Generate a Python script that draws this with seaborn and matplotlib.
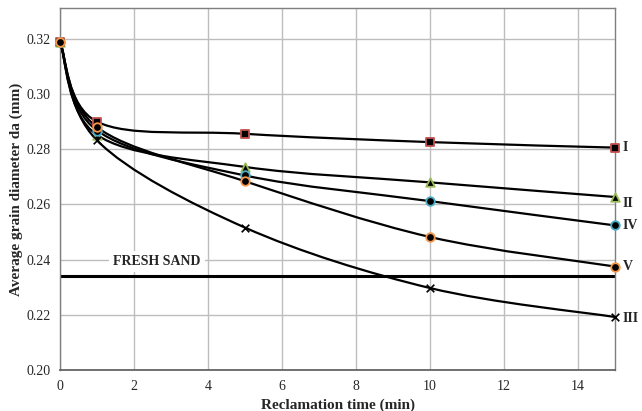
import matplotlib
matplotlib.use("Agg")
import matplotlib.pyplot as plt
from matplotlib.path import Path
from matplotlib.patches import PathPatch
import seaborn as sns
import numpy as np

# reclamation time (min) and average grain diameter (mm) per series
time_min = [0, 1, 5, 10, 15]
da_I = [0.319, 0.290, 0.2856, 0.2826, 0.2806]
da_II = [0.319, 0.2852, 0.2736, 0.2680, 0.2627]
da_IV = [0.319, 0.2868, 0.2705, 0.2612, 0.2524]
da_V = [0.319, 0.2880, 0.2684, 0.2482, 0.2375]
da_III = [0.319, 0.2832, 0.2516, 0.2297, 0.2192]
fresh_sand = 0.2342

series = [
    ("I", da_I, "s", "#c0504d", 0.2806),
    ("II", da_II, "^", "#9bbb59", 0.2605),
    ("IV", da_IV, "o", "#4bacc6", 0.2524),
    ("III", da_III, "x", "black", 0.2188),
    ("V", da_V, "o", "#f79646", 0.2375),
]

sns.set_style("whitegrid")
plt.rcParams["font.family"] = ["Liberation Serif", "DejaVu Serif"]


def smooth_path(xs, ys):
    # Excel-like smoothed line: cubic Bezier with Catmull-Rom tangents
    pts = np.column_stack([xs, ys]).astype(float)
    n = len(pts)
    verts = [pts[0]]
    codes = [Path.MOVETO]
    for i in range(n - 1):
        p0 = pts[max(i - 1, 0)]
        p1 = pts[i]
        p2 = pts[i + 1]
        p3 = pts[min(i + 2, n - 1)]
        c1 = p1 + (p2 - p0) / 6.0
        c2 = p2 - (p3 - p1) / 6.0
        verts += [c1, c2, p2]
        codes += [Path.CURVE4] * 3
    return Path(verts, codes)


fig = plt.figure(figsize=(6.42, 4.11), dpi=100)
ax = fig.add_axes([0.0935, 0.0998, 0.8645, 0.8807])

ax.set_xlim(0, 15)
ax.set_ylim(0.20, 0.3312)
ax.set_xticks(range(0, 15, 2))
ax.set_yticks([0.20, 0.22, 0.24, 0.26, 0.28, 0.30, 0.32])
ax.set_yticklabels(["0.20", "0.22", "0.24", "0.26", "0.28", "0.30", "0.32"])
ax.grid(True, color="#bdbdbd", linewidth=1.0)
for side in ["top", "right", "left"]:
    ax.spines[side].set_color("#7f7f7f")
    ax.spines[side].set_linewidth(1.0)
ax.spines["bottom"].set_color("#595959")
ax.spines["bottom"].set_linewidth(1.2)
ax.tick_params(axis="both", labelsize=10, length=3, color="#7f7f7f", pad=4)

# fresh sand reference line
sns.lineplot(x=[0, 15], y=[fresh_sand, fresh_sand], color="black", linewidth=2.2, ax=ax)
ax.text(2.62, 0.2392, "FRESH SAND", fontsize=10, fontweight="bold", ha="center", va="center",
        bbox=dict(facecolor="white", edgecolor="none", pad=3))

for name, vals, mk, ec, label_y in series:
    ax.add_patch(PathPatch(smooth_path(time_min, vals), facecolor="none",
                           edgecolor="black", linewidth=1.6, zorder=3))
    if mk == "x":
        sns.scatterplot(x=time_min, y=vals, marker="x", s=30, color="black",
                        linewidth=1.2, ax=ax, zorder=4, clip_on=False)
    else:
        sns.scatterplot(x=time_min, y=vals, marker=mk, s=38, color="black",
                        edgecolor=ec, linewidth=1.3, ax=ax, zorder=4, clip_on=False)
    ax.text(15.2, label_y, name, fontsize=10, fontweight="bold", ha="left", va="center")

ax.set_xlabel("Reclamation time (min)", fontsize=11, fontweight="bold", labelpad=4)
ax.set_ylabel("Average grain diameter da (mm)", fontsize=11, fontweight="bold", labelpad=2)

fig.savefig("out.png", dpi=100)
